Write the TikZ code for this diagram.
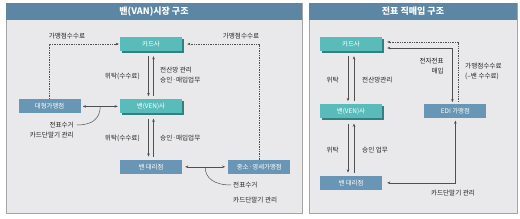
\documentclass[tikz,border=0pt]{standalone}
\usepackage{fontspec}
\setmainfont{Noto Sans CJK KR}
\usetikzlibrary{arrows.meta, positioning, shadows}
\definecolor{tealbox}{RGB}{90,188,186}
\definecolor{tealside}{RGB}{50,128,128}
\definecolor{bluebox}{RGB}{104,150,180}
\definecolor{headbar}{RGB}{92,134,163}
\definecolor{panelbg}{RGB}{233,233,235}
\definecolor{panelline}{RGB}{165,165,165}
\definecolor{linegray}{RGB}{80,80,80}
\definecolor{txtgray}{RGB}{35,35,35}
\tikzset{
  flat/.style   ={fill=bluebox, text=white, align=center, inner sep=1pt,
                  minimum height=14pt, minimum width=62pt,
                  font=\fontsize{6.4}{8}\selectfont},
  raised/.style ={flat, fill=tealbox,
                  general shadow={fill=tealside, shadow xshift=1.6pt, shadow yshift=-2pt}},
  lbl/.style    ={font=\fontsize{6.6}{10}\selectfont, text=txtgray, inner sep=1pt},
  arr/.style    ={-{Stealth[length=3.2pt, width=2.6pt]}, linegray, line width=0.55pt},
  twin/.style   ={{Stealth[length=3.2pt, width=2.6pt]}-{Stealth[length=3.2pt, width=2.6pt]},
                  linegray, line width=0.55pt},
  fee/.style    ={arr, dash pattern=on 1.4pt off 1pt},
  curl/.style   ={linegray, line width=0.5pt},
  headtxt/.style={text=white, font=\fontsize{9}{10}\selectfont\bfseries},
}
\begin{document}
\begin{tikzpicture}[x=1pt, y=-1pt]
  \useasboundingbox (0,0) rectangle (520,218);

  % panels
  \fill[panelbg] (6,3) rectangle (302,213);
  \draw[panelline, line width=0.8pt] (6,3) rectangle (302,213);
  \fill[headbar] (6,3) rectangle (302,20);
  \node[headtxt] (head1) at (154,11.5) {밴(VAN)시장 구조};

  \fill[panelbg] (309,3) rectangle (517,213);
  \draw[panelline, line width=0.8pt] (309,3) rectangle (517,213);
  \fill[headbar] (309,3) rectangle (517,20);
  \node[headtxt] (head2) at (413,11.5) {전표 직매입 구조};

  % left: VAN market
  \node[raised]                      (card1)  at (151,44) {카드사};
  \node[raised, below=48pt of card1] (van1)   {밴(VEN)사};
  \node[flat, below=46pt of van1]    (agent1) {밴 대리점};
  \node[flat, left=39pt of van1]     (large)  {대형가맹점};
  \node[flat, right=46pt of agent1]  (small)  {중소·영세가맹점};

  \draw[fee, shorten >=1pt] (large.north) |- (card1.west);
  \draw[fee, shorten >=5pt] (small.north) |- (card1.east);
  \node[lbl] (fee1) at (67,36)  {가맹점수수료};
  \node[lbl] (fee2) at (241,36) {가맹점수수료};

  \draw[arr, shorten <=5pt, shorten >=3pt] ([xshift=-2.5pt]card1.south) -- ([xshift=-2.5pt]van1.north);
  \draw[arr, shorten <=3pt, shorten >=5pt] ([xshift=2.5pt]van1.north) -- ([xshift=2.5pt]card1.south);
  \node[lbl, anchor=east] (trust1) at (141,76) {위탁(수수료)};
  \node[lbl, anchor=west, align=left] (net1) at (159,75) {전산망 관리\\승인·매입업무};

  \draw[arr, shorten <=5pt, shorten >=3pt] ([xshift=-2.5pt]van1.south) -- ([xshift=-2.5pt]agent1.north);
  \draw[arr, shorten <=3pt, shorten >=5pt] ([xshift=2.5pt]agent1.north) -- ([xshift=2.5pt]van1.south);
  \node[lbl, anchor=east] (trust2) at (141,138) {위탁(수수료)};
  \node[lbl, anchor=west] (ok1) at (159,138) {승인·매입업무};

  \draw[twin, shorten <=2pt, shorten >=2pt] (large.east) -- coordinate[pos=0.5] (m1) (van1.west);
  \coordinate (e1) at (77,125);
  \draw[curl] (m1) .. controls (100,119) and (92,125) .. (e1);
  \node[lbl, anchor=east, align=right] (slip1) at (75,130.5) {전표수거\\카드단말기 관리};

  \draw[twin, shorten <=3pt, shorten >=3pt] (agent1.east) -- coordinate[pos=0.5] (m2) (small.west);
  \coordinate (e2) at (231,185);
  \draw[curl] (m2) .. controls (205,178) and (214,185) .. (e2);
  \node[lbl, anchor=west, align=left] (slip2) at (232,193) {전표수거\\[5pt]카드단말기 관리};

  % right: direct slip purchase
  \node[raised]                      (card2)  at (351,44) {카드사};
  \node[raised, below=53pt of card2] (van2)   {밴(VEN)사};
  \node[flat, below=57pt of van2]    (agent2) {밴 대리점};
  \node[flat, right=42pt of van2]    (edi)    {EDI 가맹점};

  \draw[arr, shorten <=5pt, shorten >=3pt] ([xshift=-3pt]card2.south) -- ([xshift=-3pt]van2.north);
  \draw[arr, shorten <=3pt, shorten >=5pt] ([xshift=3pt]van2.north) -- ([xshift=3pt]card2.south);
  \node[lbl, anchor=east] (trust3) at (340,80) {위탁};
  \node[lbl, anchor=west] (net2) at (361,80) {전산망관리};

  \draw[arr, shorten <=5pt, shorten >=3pt] ([xshift=-3pt]van2.south) -- ([xshift=-3pt]agent2.north);
  \draw[arr, shorten <=3pt, shorten >=5pt] ([xshift=3pt]agent2.north) -- ([xshift=3pt]van2.south);
  \node[lbl, anchor=east] (trust4) at (340,150) {위탁};
  \node[lbl, anchor=west] (ok2) at (361,150) {승인 업무};

  \draw[fee, shorten <=2pt, shorten >=5pt] ([xshift=3pt]edi.north) |- ([yshift=2pt]card2.east);
  \draw[twin, shorten <=5pt, shorten >=2pt] ([yshift=-4pt]card2.east) -| ([xshift=-3pt]edi.north);
  \node[lbl, anchor=east, align=right] (ebuy) at (445,66) {전자전표\\매입};
  \node[lbl, anchor=west, align=left] (fee3) at (464,71) {가맹점수수료\\(–밴 수수료)};

  \draw[twin, shorten <=5pt, shorten >=2pt] (agent2.east) -| (edi.south);
  \node[lbl] (term2) at (453,193) {카드단말기 관리};
\end{tikzpicture}
\end{document}
